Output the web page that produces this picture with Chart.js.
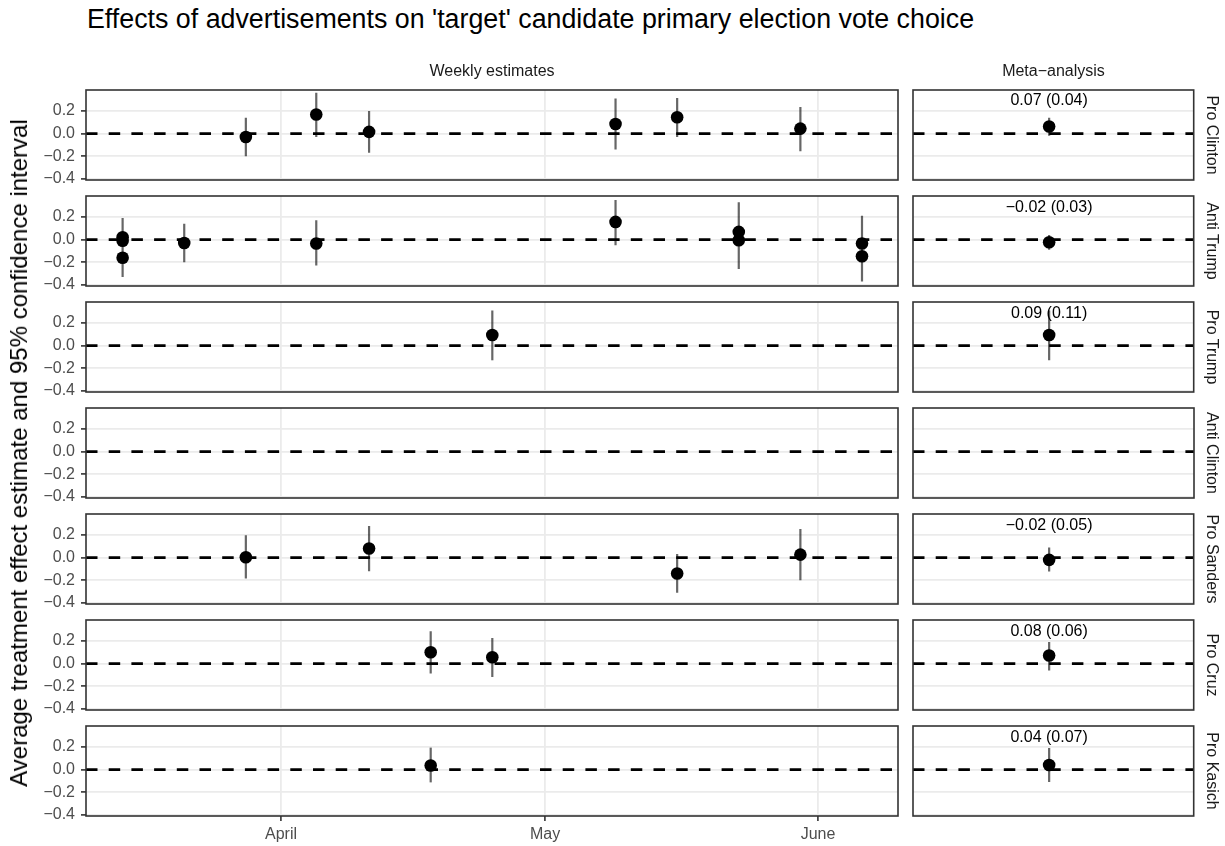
<!DOCTYPE html>
<html><head><meta charset="utf-8">
<script src="https://cdn.jsdelivr.net/npm/chart.js@4.4.1/dist/chart.umd.min.js"></script>
<style>
html,body{margin:0;padding:0;background:#fff}
body{width:1225px;height:846px;position:relative;overflow:hidden;font-family:"Liberation Sans",Arial,Helvetica,sans-serif}
canvas{position:absolute}
.txt{position:absolute;white-space:nowrap;line-height:1}
</style></head><body>
<script>
// ---------------- DATA ----------------
const candidates = ['Pro Clinton','Anti Trump','Pro Trump','Anti Clinton','Pro Sanders','Pro Cruz','Pro Kasich'];
const columnTitles = ['Weekly estimates','Meta\u2212analysis'];
const chartTitle = "Effects of advertisements on 'target' candidate primary election vote choice";
const yAxisTitle = 'Average treatment effect estimate and 95% confidence interval';

// x values are day-of-year (2016)
const xTickDays   = [92, 122, 153];
const xTickLabels = ['April','May','June'];
const yTicks      = [-0.4, -0.2, 0, 0.2];
const yTickLabels = ['\u22120.4','\u22120.2','0.0','0.2'];

const proClintonDay = [88, 96, 102, 130, 137, 151];
const proClintonEst = [-0.03, 0.168, 0.015, 0.085, 0.144, 0.044];
const proClintonLo  = [-0.20, -0.03, -0.17, -0.14, -0.03, -0.155];
const proClintonHi  = [0.14, 0.36, 0.20, 0.31, 0.315, 0.235];

const antiTrumpDay = [74, 74, 74, 81, 96, 130, 144, 144, 158, 158];
const antiTrumpEst = [0.02, -0.01, -0.16, -0.03, -0.035, 0.156, 0.068, -0.006, -0.035, -0.147];
const antiTrumpLo  = [-0.15, -0.18, -0.33, -0.20, -0.23, -0.05, -0.19, -0.26, -0.26, -0.37];
const antiTrumpHi  = [0.19, 0.16, 0.01, 0.14, 0.17, 0.35, 0.33, 0.24, 0.21, 0.08];

const proTrumpDay = [116];
const proTrumpEst = [0.094];
const proTrumpLo  = [-0.13];
const proTrumpHi  = [0.31];

const antiClintonDay = [];
const antiClintonEst = [];
const antiClintonLo  = [];
const antiClintonHi  = [];

const proSandersDay = [88, 102, 137, 151];
const proSandersEst = [0.003, 0.08, -0.141, 0.026];
const proSandersLo  = [-0.185, -0.12, -0.31, -0.20];
const proSandersHi  = [0.197, 0.28, 0.032, 0.253];

const proCruzDay = [109, 116];
const proCruzEst = [0.10, 0.056];
const proCruzLo  = [-0.088, -0.118];
const proCruzHi  = [0.285, 0.226];

const proKasichDay = [109];
const proKasichEst = [0.036];
const proKasichLo  = [-0.113];
const proKasichHi  = [0.194];

// Meta-analysis (one pooled estimate per candidate row)
const metaX     = 0.485;
const metaEst   = [0.062, -0.024, 0.094, null, -0.02, 0.072, 0.04];
const metaLo    = [-0.02, -0.09, -0.13, null, -0.124, -0.06, -0.11];
const metaHi    = [0.14, 0.04, 0.31, null, 0.088, 0.19, 0.19];
const metaLabel = ['0.07 (0.04)', '\u22120.02 (0.03)', '0.09 (0.11)', '', '\u22120.02 (0.05)', '0.08 (0.06)', '0.04 (0.07)'];
const metaLabelY = 0.29;

// ---------------- LAYOUT (not data) ----------------
const FONT = '"Liberation Sans", Arial, Helvetica, sans-serif';
const L = {rowTop0: 89.7, rowPitch: 106.1, panelH: 90, leftX0: 86, leftX1: 898, metaX0: 913, metaX1: 1194, stripX: 1212};
const yMin = -0.41, yMax = 0.385;
const xMin = 69.84, xMax = 162.09;

Chart.defaults.font.family = FONT;

const weekly = [
  [proClintonDay, proClintonEst, proClintonLo, proClintonHi],
  [antiTrumpDay, antiTrumpEst, antiTrumpLo, antiTrumpHi],
  [proTrumpDay, proTrumpEst, proTrumpLo, proTrumpHi],
  [antiClintonDay, antiClintonEst, antiClintonLo, antiClintonHi],
  [proSandersDay, proSandersEst, proSandersLo, proSandersHi],
  [proCruzDay, proCruzEst, proCruzLo, proCruzHi],
  [proKasichDay, proKasichEst, proKasichLo, proKasichHi]
];

function addText(str, x, y, size, color, transform) {
  const d = document.createElement('div');
  d.className = 'txt';
  d.textContent = str;
  d.style.left = x + 'px';
  d.style.top = y + 'px';
  d.style.fontSize = size + 'px';
  d.style.color = color;
  if (transform) d.style.transform = transform;
  document.body.appendChild(d);
  return d;
}

const frame = {
  id: 'frame',
  afterDatasetsDraw(c) {
    const a = c.chartArea, ctx = c.ctx;
    ctx.save();
    ctx.strokeStyle = '#333333';
    ctx.lineWidth = 1.6;
    ctx.strokeRect(a.left, a.top, a.right - a.left, a.bottom - a.top);
    ctx.restore();
  }
};

function makeCanvas(left, top, w, h) {
  const cv = document.createElement('canvas');
  cv.width = w; cv.height = h;
  cv.style.left = left + 'px'; cv.style.top = top + 'px';
  cv.style.width = w + 'px'; cv.style.height = h + 'px';
  document.body.appendChild(cv);
  return cv;
}

function buildDatasets(xs, est, lo, hi, x0, x1) {
  const bars = [];
  const pts = [];
  xs.forEach((x, i) => {
    if (est[i] == null) return;
    bars.push({x: x, y: lo[i]}, {x: x, y: hi[i]}, {x: x, y: null});
    pts.push({x: x, y: est[i]});
  });
  return [
    {data: pts, showLine: false, pointRadius: 6.3, pointBackgroundColor: '#000', pointBorderColor: '#000', pointBorderWidth: 0},
    {data: bars, showLine: true, spanGaps: false, borderColor: 'rgba(0,0,0,0.6)', borderWidth: 2.2, pointRadius: 0},
    {data: [{x: x0, y: 0}, {x: x1, y: 0}], showLine: true, borderColor: '#000', borderWidth: 2.7, borderDash: [11.5, 11.2], pointRadius: 0}
  ];
}

function yScale(showLabels) {
  return {
    type: 'linear', min: yMin, max: yMax,
    afterBuildTicks: s => { s.ticks = yTicks.map(v => ({value: v})); },
    afterFit: s => { s.width = showLabels ? L.leftX0 : 0; },
    border: {display: false},
    grid: {color: '#ebebeb', lineWidth: 1.8, drawTicks: showLabels, tickLength: 5, tickColor: '#333333', tickWidth: 1.6},
    ticks: {display: showLabels, autoSkip: false, padding: 6, color: '#4d4d4d', font: {size: 16}, callback: (v, i) => yTickLabels[i]}
  };
}

const baseOpts = {
  responsive: false, animation: false, events: [], devicePixelRatio: 1,
  plugins: {legend: {display: false}, tooltip: {enabled: false}}
};

for (let r = 0; r < candidates.length; r++) {
  const top = L.rowTop0 + r * L.rowPitch;
  const last = r === candidates.length - 1;
  const xh = last ? 40 : 0;
  const padB = last ? 5 : 20;

  // ---- weekly panel ----
  const lw = L.leftX1 + 7;
  const lh = 20 + L.panelH + xh + padB;
  const cvL = makeCanvas(0, top - 20, lw, lh);
  const w = weekly[r];
  new Chart(cvL, {
    type: 'scatter',
    data: {datasets: buildDatasets(w[0], w[1], w[2], w[3], xMin, xMax)},
    options: Object.assign({}, baseOpts, {
      layout: {padding: {left: 0, right: 7, top: 20, bottom: padB}},
      scales: {
        x: {
          type: 'linear', min: xMin, max: xMax,
          afterBuildTicks: s => { s.ticks = xTickDays.map(v => ({value: v})); },
          afterFit: s => { s.height = xh; },
          border: {display: false},
          grid: {color: '#ebebeb', lineWidth: 1.8, drawTicks: last, tickLength: 5, tickColor: '#333333', tickWidth: 1.6},
          ticks: {display: last, autoSkip: false, maxRotation: 0, padding: 4, color: '#4d4d4d', font: {size: 16}, callback: (v, i) => xTickLabels[i]}
        },
        y: yScale(true)
      }
    }),
    plugins: [frame]
  });

  // ---- meta panel ----
  const mLeft = L.metaX0 - 13;
  const mw = (L.metaX1 - mLeft) + 6;
  const cvM = makeCanvas(mLeft, top - 20, mw, L.panelH + 40);
  const mc = new Chart(cvM, {
    type: 'scatter',
    data: {datasets: buildDatasets([metaX], [metaEst[r]], [metaLo[r]], [metaHi[r]], 0, 1)},
    options: Object.assign({}, baseOpts, {
      layout: {padding: {left: 13, right: 6, top: 20, bottom: 20}},
      scales: {
        x: {type: 'linear', min: 0, max: 1, display: false},
        y: yScale(false)
      }
    }),
    plugins: [frame]
  });
  if (metaLabel[r]) {
    const px = mc.scales.x.getPixelForValue(metaX) + mLeft;
    const py = mc.scales.y.getPixelForValue(metaLabelY) + (top - 20);
    addText(metaLabel[r], px, py, 16, '#000', 'translate(-50%,-50%)');
  }

  // ---- right strip label ----
  addText(candidates[r], L.stripX, top + L.panelH / 2, 16, '#1a1a1a', 'translate(-50%,-50%) rotate(90deg)');
}

// Titles and strips
addText(chartTitle, 87, 5.6, 26.8, '#000');
addText(columnTitles[0], (L.leftX0 + L.leftX1) / 2, 62.5, 16, '#1a1a1a', 'translateX(-50%)');
addText(columnTitles[1], (L.metaX0 + L.metaX1) / 2, 62.5, 16, '#1a1a1a', 'translateX(-50%)');
addText(yAxisTitle, 19, L.rowTop0 + (6 * L.rowPitch + L.panelH) / 2, 24, '#000', 'translate(-50%,-50%) rotate(-90deg)');
</script>
</body></html>
